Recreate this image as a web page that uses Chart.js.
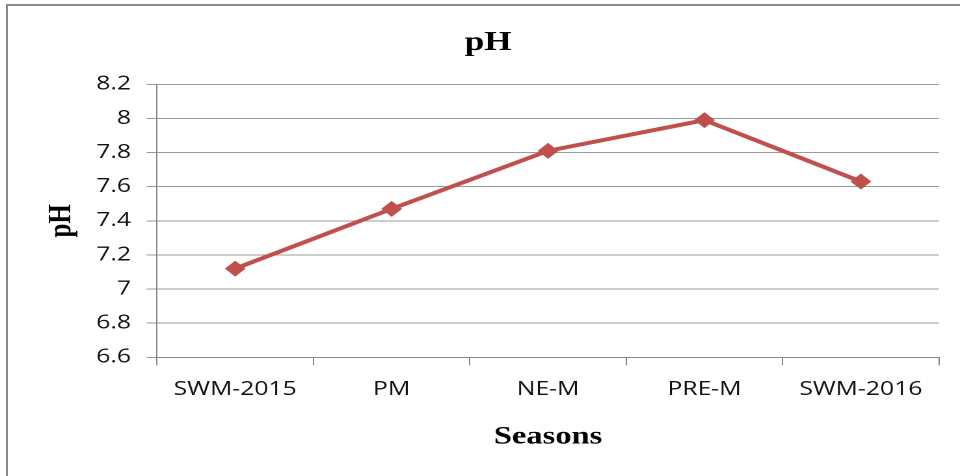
<!DOCTYPE html>
<html>
<head>
<meta charset="utf-8">
<script src="https://cdn.jsdelivr.net/npm/chart.js@4/dist/chart.umd.min.js"></script>
<style>
  html, body { margin: 0; padding: 0; background: #fff; overflow: hidden; }
  #frame { position: absolute; left: 6px; top: 4px; width: 2000px; height: 2000px;
           border-left: 2px solid #8a8a8a; border-top: 2px solid #8a8a8a; }
  #wrap { position: absolute; left: 0; top: 0; width: 738px; height: 476px;
          transform-origin: 0 0; transform: scaleX(1.30081); }
</style>
</head>
<body>
<div id="frame"></div>
<div id="wrap"><canvas id="c" width="738" height="476" style="width:738px;height:476px"></canvas></div>
<script>
const categories = ['SWM-2015', 'PM', 'NE-M', 'PRE-M', 'SWM-2016'];
const phValues = [7.12, 7.47, 7.81, 7.99, 7.63];
const yTickLabels = ['6.6', '6.8', '7', '7.2', '7.4', '7.6', '7.8', '8', '8.2'];
const chartTitle = 'pH';
const yTitle = 'pH';
const xTitle = 'Seasons';

const serif = "'Liberation Serif', 'Times New Roman', serif";
const sans = "'Open Sans', 'Noto Sans', sans-serif";

new Chart(document.getElementById('c'), {
  type: 'line',
  data: {
    labels: categories,
    datasets: [{
      label: 'pH',
      data: phValues,
      borderColor: '#C0504D',
      backgroundColor: '#C0504D',
      borderWidth: 4,
      pointStyle: 'rectRot',
      pointRadius: 8,
      pointBorderWidth: 0,
      pointBackgroundColor: '#C0504D',
      tension: 0,
      fill: false
    }]
  },
  options: {
    responsive: false,
    devicePixelRatio: 2,
    animation: false,
    layout: { padding: { left: 28.5, right: 16.1, top: 0, bottom: 0 } },
    plugins: {
      legend: { display: false },
      tooltip: { enabled: false },
      title: {
        display: true,
        text: chartTitle,
        color: '#000',
        font: { family: serif, size: 27, weight: 'bold', lineHeight: 1.2 },
        padding: { top: 27, bottom: 24.9 }
      }
    },
    scales: {
      x: {
        offset: true,
        afterFit: (s) => { s.height = 476 - 357.3; },
        grid: { offset: true, drawOnChartArea: false, drawTicks: true, tickLength: 8, color: '#868686', lineWidth: 1 },
        border: { color: '#868686', width: 1 },
        ticks: { color: '#111', font: { family: sans, size: 19 }, padding: 13, maxRotation: 0, autoSkip: false },
        title: {
          display: true, text: xTitle, color: '#000',
          font: { family: serif, size: 25, weight: 'bold', lineHeight: 1.2 },
          padding: { top: 0, bottom: 24 }
        }
      },
      y: {
        min: 6.6, max: 8.2,
        afterFit: (s) => { s.width = 120.7 - 28.5; },
        grid: { color: '#9a9a9a', lineWidth: 1, drawTicks: true, tickLength: 8 },
        border: { color: '#868686', width: 1 },
        ticks: {
          stepSize: 0.2, color: '#111', font: { family: sans, size: 19 }, padding: 12,
          callback: (v, i) => yTickLabels[i]
        },
        title: {
          display: true, text: yTitle, color: '#000',
          font: { family: serif, size: 25, weight: 'bold', lineHeight: 1.2 },
          padding: { top: 4, bottom: 4 }
        }
      }
    }
  }
});
</script>
</body>
</html>
